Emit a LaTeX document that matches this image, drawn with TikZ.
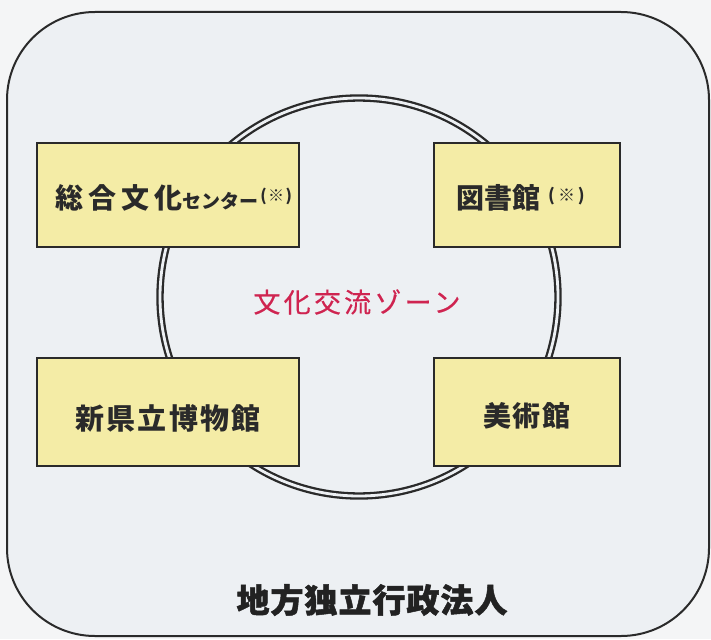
\documentclass[tikz,border=0pt]{standalone}
\usepackage{fontspec}
\newfontfamily\jp{Noto Sans CJK JP}
\definecolor{bgout}{HTML}{F4F5F6}
\definecolor{bgin}{HTML}{EDF0F3}
\definecolor{boxfill}{HTML}{F4ECA6}
\definecolor{zonered}{HTML}{CF2450}
\definecolor{ink}{HTML}{2A2A2A}
\begin{document}
\begin{tikzpicture}[x=1pt,y=-1pt,
  facility/.style={draw=ink, line width=2pt, fill=boxfill, rectangle, inner sep=0pt},
  lbl/.style={font=\jp\bfseries, text=ink, inner sep=0pt},
  zonering/.style={circle, draw=ink, line width=2.3pt, double=bgin, double distance=2.8pt, inner sep=0pt},
]
\useasboundingbox (0,0) rectangle (711,639);
\fill[bgout] (0,0) rectangle (711,639);
\draw[draw=ink, line width=2pt, fill=bgin, rounded corners=88pt] (7,12) rectangle (709,636);
\node[zonering, minimum size=398pt] (zone) at (359,297) {};
\node[facility, minimum width=262pt, minimum height=104pt] (tl) at (168,195) {};
\node[facility, minimum width=186pt, minimum height=104pt] (tr) at (527,195) {};
\node[facility, minimum width=262pt, minimum height=108pt] (bl) at (168,412) {};
\node[facility, minimum width=186pt, minimum height=108pt] (br) at (527,412) {};
\node[lbl, anchor=west] (tltext) at (55,198) {{\fontsize{28}{30}\selectfont\addfontfeatures{LetterSpace=18}総合文化}{\fontsize{19}{20}\selectfont センター}\hspace{2pt}\raisebox{7pt}{\fontsize{16}{16}\selectfont (\hspace{1.5pt}※\hspace{1.5pt})}};
\node[lbl, anchor=west] (trtext) at (456,198) {{\fontsize{28}{30}\selectfont 図書館}\hspace{8pt}\raisebox{7pt}{\fontsize{17}{17}\selectfont (\hspace{3pt}※\hspace{3pt})}};
\node[lbl] (bltext) at (168,418) {\fontsize{29}{31}\selectfont\addfontfeatures{LetterSpace=7}新県立博物館};
\node[lbl] (brtext) at (527,416) {\fontsize{28}{30}\selectfont\addfontfeatures{LetterSpace=4}美術館};
\node[font=\jp, text=zonered, inner sep=0pt] (zonetext) at (357,302) {\fontsize{27}{29}\selectfont\addfontfeatures{LetterSpace=12,FakeBold=0.4}文化交流ゾーン};
\node[font=\jp\bfseries, text=ink!80!black, inner sep=0pt] (corp) at (372,600) {\fontsize{33}{35}\selectfont\addfontfeatures{LetterSpace=3,FakeBold=1.5}地方独立行政法人};
\end{tikzpicture}
\end{document}
